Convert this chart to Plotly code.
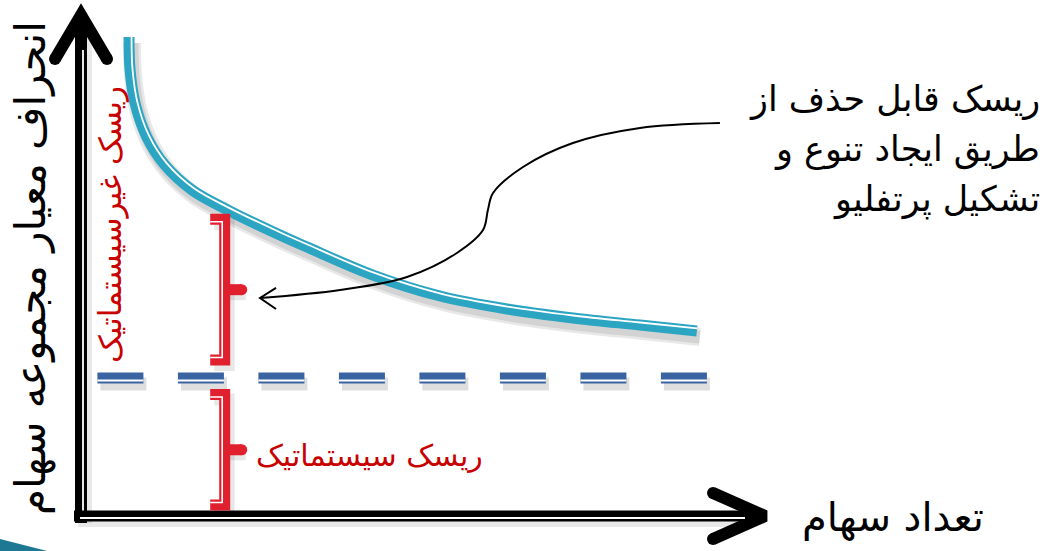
import numpy as np
import plotly.graph_objects as go

# ---------------- data ----------------
n_stocks = [2.34, 2.39, 2.63, 3.21, 4.09, 5.41, 7.16, 9.69, 11.01, 14.22, 17.49, 20.75, 23.96, 27.23, 30.0]
total_risk = [34.71, 32.32, 29.93, 27.46, 25.43, 23.62, 22.17, 20.36, 19.49, 17.46, 15.94, 15.0, 14.35, 13.84, 13.41]
systematic_risk = 10.0
systematic_span = [0.8, 30.6]
bracket_n = 7.0
unsys_bracket = [21.5, 11.3]
sys_bracket = [8.8, 0.8]

# ---------------- texts ----------------
y_title = "انحراف معیار مجموعه سهام"
x_title = "تعداد سهام"
callout_lines = ["ریسک قابل حذف از", "طریق ایجاد تنوع و", "تشکیل پرتفلیو"]
unsys_label = "ریسک غیرسیستماتیک"
sys_label = "ریسک سیستماتیک"

# ---------------- styles ----------------
TEAL = "#2CA5C2"
BLUE = "#3A63A1"
RED = "#E0202E"
TXT_RED = "#C80000"
FONT = "DejaVu Sans"
SHADOW = "rgba(0,0,0,0.09)"

W, H = 1048, 551
X0_PX, Y0_PX = 81, 516      # pixel position of the axes origin
SX, SY = 20.53, 13.8        # pixels per unit
x_range = [-X0_PX / SX, (W - X0_PX) / SX]
y_range = [-(H - Y0_PX) / SY, Y0_PX / SY]


def dx(p):
    return p / SX


def dy(p):
    return p / SY


fig = go.Figure()


def line(x, y, color, width, dash=None, shape="linear", smoothing=1.0):
    fig.add_trace(go.Scatter(x=x, y=y, mode="lines", hoverinfo="skip", showlegend=False,
                             line=dict(color=color, width=width, dash=dash, shape=shape,
                                       smoothing=smoothing)))


def dots(x, y, color, size):
    fig.add_trace(go.Scatter(x=x, y=y, mode="markers", hoverinfo="skip", showlegend=False,
                             marker=dict(color=color, size=size, line=dict(width=0))))


nx = np.array(n_stocks)
ry = np.array(total_risk)

# ---------------- total risk curve (double line with shadow) ----------------
for w in (18, 13):
    line(nx + dx(3), ry - dy(6), SHADOW, w, shape="spline")
line(nx, ry, TEAL, 11, shape="spline")
px_ = nx * SX
py_ = -ry * SY
tx, ty = np.gradient(px_), np.gradient(py_)
norm = np.hypot(tx, ty)
ox, oy = ty / norm, -tx / norm  # normal towards upper-right (screen)
line(nx + dx(2.5) * ox, ry - dy(2.5) * oy, "white", 1.8, shape="spline")

# ---------------- systematic risk dashed line ----------------
DASH = "46px,34.5px"
line([systematic_span[0] + dx(3), systematic_span[1] + dx(3)],
     [systematic_risk - dy(6)] * 2, "rgba(0,0,0,0.13)", 13, dash=DASH)
line(systematic_span, [systematic_risk] * 2, BLUE, 11, dash=DASH)
line(systematic_span, [systematic_risk - dy(2.6)] * 2, "white", 2, dash=DASH)

# ---------------- axes (double arrows) ----------------
x_tip = dx(684)
y_tip = dy(501)
# shadows
line([dx(5), dx(5)], [-dy(7), y_tip - dy(12)], SHADOW, 12)
line([-dx(3), x_tip - dx(10)], [-dy(5), -dy(5)], SHADOW, 12)
# y axis
line([0, 0], [-dy(7), y_tip - dy(12)], "black", 12)
line([-dx(26), 0, dx(26)], [y_tip - dy(44), y_tip, y_tip - dy(44)], "black", 12)
dots([-dx(26), dx(26)], [y_tip - dy(44)] * 2, "black", 12)
line([dx(2), dx(2)], [dy(5), y_tip - dy(35)], "white", 1.8)
# x axis
line([-dx(7), x_tip - dx(12)], [0, 0], "black", 11)
line([x_tip - dx(52), x_tip, x_tip - dx(52)], [dy(23), 0, -dy(23)], "black", 12)
dots([x_tip - dx(52)] * 2, [dy(23), -dy(23)], "black", 12)
line([-dx(1), x_tip - dx(20)], [-dy(2), -dy(2)], "white", 1.8)

# ---------------- brackets ----------------
for top, bot in (unsys_bracket, sys_bracket):
    mid = (top + bot) / 2
    bx = bracket_n
    arm = dx(14.5)
    # shadow
    line([bx - arm + dx(4), bx + dx(4), bx + dx(4), bx - arm + dx(4)],
         [top - dy(5), top - dy(5), bot - dy(5), bot - dy(5)], SHADOW, 12)
    line([bx + dx(4), bx + dx(21)], [mid - dy(5), mid - dy(5)], SHADOW, 11)
    # red bracket
    line([bx - arm, bx, bx, bx - arm], [top, top, bot, bot], RED, 11)
    line([bx, bx + dx(17)], [mid, mid], RED, 11)
    dots([bx + dx(17)], [mid], RED, 11)
    line([bx - arm, bx - dx(2.5), bx - dx(2.5), bx - arm],
         [top - dy(2.5), top - dy(2.5), bot + dy(2.5), bot + dy(2.5)], "white", 1.6)

# ---------------- callout arrow ----------------
call_x = [31.12, 27.23, 23.96, 21.53, 20.07, 19.82, 19.58, 18.31, 15.88, 12.62, 8.72]
call_y = [28.48, 28.12, 27.03, 25.29, 23.41, 22.17, 20.72, 19.06, 17.32, 16.38, 15.80]
line(call_x, call_y, "black", 2, shape="spline")
line([call_x[-1] + dx(16), call_x[-1], call_x[-1] + dx(16)],
     [call_y[-1] + dy(10), call_y[-1], call_y[-1] - dy(11)], "black", 2)

# ---------------- texts ----------------
ann = [
    dict(text=y_title, x=-dx(50), y=dy(516 - 268), textangle=-90,
         font=dict(size=42, color="black", family=FONT)),
    dict(text=x_title, x=dx(893 - 81), y=-dy(1), xanchor="center",
         font=dict(size=40, color="black", family=FONT)),
    dict(text=unsys_label, x=dx(29), y=dy(516 - 225), textangle=-90,
         font=dict(size=31, color=TXT_RED, family=FONT)),
    dict(text=sys_label, x=dx(369 - 81), y=dy(516 - 455),
         font=dict(size=30, color=TXT_RED, family=FONT)),
]
for i, t in enumerate(callout_lines):
    ann.append(dict(text=t, x=dx(1042 - 81), y=dy(516 - (99 + 50 * i)), xanchor="right",
                    align="right", font=dict(size=35, color="black", family=FONT)))
for a in ann:
    a.update(xref="x", yref="y", showarrow=False)
    fig.add_annotation(**a)

# bottom-left slide decoration
fig.add_shape(type="path", xref="paper", yref="paper",
              path="M 0 0.022 L 0.045 0 L 0 0 Z", fillcolor="#1E7893", line=dict(width=0))

fig.update_layout(
    width=W, height=H, margin=dict(l=0, r=0, t=0, b=0, pad=0),
    paper_bgcolor="white", plot_bgcolor="white", showlegend=False,
    xaxis=dict(range=x_range, visible=False, fixedrange=True),
    yaxis=dict(range=y_range, visible=False, fixedrange=True),
)

fig.write_html("out.html")
